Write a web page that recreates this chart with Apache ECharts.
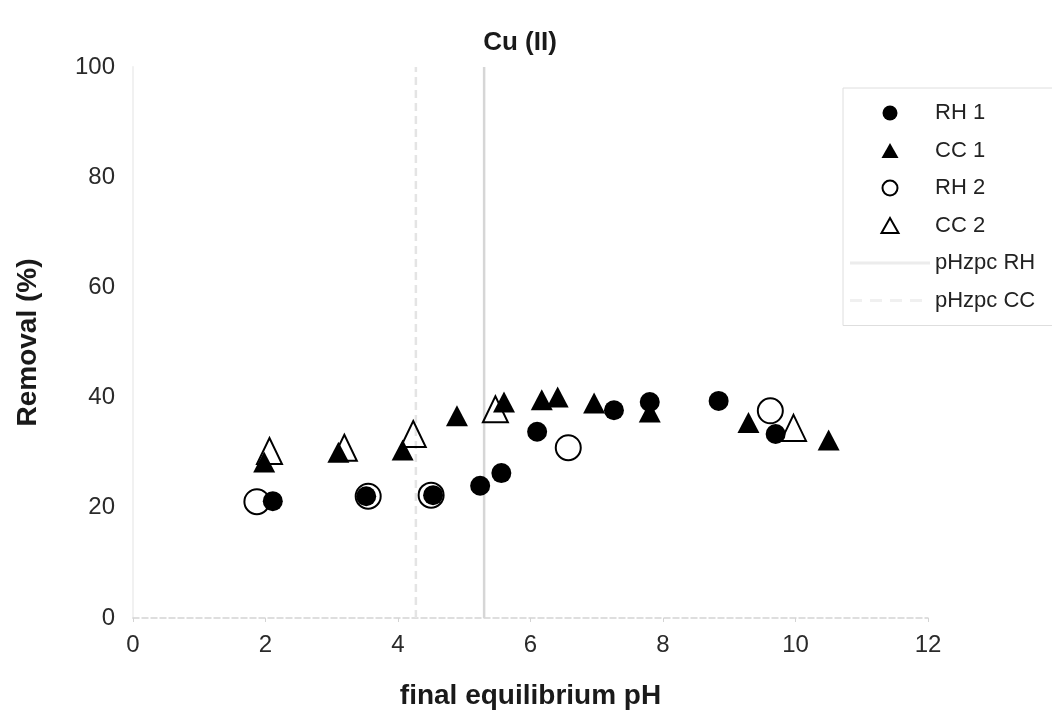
<!DOCTYPE html>
<html>
<head>
<meta charset="utf-8">
<title>Cu (II) removal vs final equilibrium pH</title>
<script src="https://cdn.jsdelivr.net/npm/echarts@6/dist/echarts.min.js"></script>
<style>
  html, body { margin: 0; padding: 0; background: #ffffff; }
  #chart { width: 1052px; height: 725px; }
</style>
</head>
<body>
<div id="chart"></div>
<script>
// Removal (%) of Cu(II) against final equilibrium pH, [pH, removal]
const rh1 = [[2.11, 21.2], [3.52, 22.1], [4.53, 22.3], [5.24, 24.0], [5.56, 26.3],
             [6.10, 33.8], [7.26, 37.7], [7.80, 39.2], [8.84, 39.4], [9.70, 33.4]];
const cc1 = [[1.98, 28.3], [3.10, 30.1], [4.07, 30.5], [4.89, 36.7], [5.60, 39.2],
             [6.17, 39.6], [6.41, 40.1], [6.96, 39.0], [7.80, 37.4], [9.29, 35.5], [10.5, 32.3]];
const rh2 = [[1.87, 21.1], [3.55, 22.1], [4.50, 22.3], [6.57, 30.9], [9.62, 37.6]];
const cc2 = [[2.06, 30.3], [3.19, 30.9], [4.23, 33.4], [5.47, 37.9], [9.97, 34.5]];

// point of zero charge of each sorbent
const pHzpcRH = 5.3;
const pHzpcCC = 4.27;

const seriesNames = ['RH 1', 'CC 1', 'RH 2', 'CC 2', 'pHzpc RH', 'pHzpc CC'];
const xTicks = { min: 0, max: 12, interval: 2 };
const yTicks = { min: 0, max: 100, interval: 20 };

const FONT = "'Liberation Sans', Arial, sans-serif";
const chart = echarts.init(document.getElementById('chart'), null, { renderer: 'canvas' });

function zpcLine(x) {
  return [[x, yTicks.min], [x, yTicks.max]];
}

// legend glyphs: triangles kept equilateral, zpc entries as thin faint strokes
const TRI = 'path://M0,15 L8.5,0 L17,15 Z';
const SOLID_STROKE = 'path://M0,0 L80,0 L80,3 L0,3 Z';
const DASH_STROKE = 'path://M0,0 L12,0 L12,3 L0,3 Z M20,0 L32,0 L32,3 L20,3 Z M40,0 L52,0 L52,3 L40,3 Z M60,0 L72,0 L72,3 L60,3 Z M80,0 L80,3 Z';

chart.setOption({
  backgroundColor: '#ffffff',
  animation: false,
  textStyle: { fontFamily: FONT },
  title: {
    text: 'Cu (II)',
    left: 515,
    top: 25,
    textAlign: 'center',
    textStyle: { fontFamily: FONT, fontSize: 26, fontWeight: 'bold', color: '#1a1a1a' }
  },
  grid: { left: 133, right: 124, top: 67, bottom: 107, containLabel: false },
  legend: {
    data: [
      { name: seriesNames[0], icon: 'circle' },
      { name: seriesNames[1], icon: TRI },
      { name: seriesNames[2], icon: 'circle' },
      { name: seriesNames[3], icon: TRI },
      { name: seriesNames[4], icon: SOLID_STROKE, itemStyle: { color: '#ececec', borderWidth: 0 } },
      { name: seriesNames[5], icon: DASH_STROKE, itemStyle: { color: '#f0f0f0', borderWidth: 0 } }
    ],
    orient: 'vertical',
    left: 843,
    top: 88,
    padding: [14, 30, 14, 7],
    itemWidth: 80,
    itemHeight: 15,
    itemGap: 15.5,
    symbolKeepAspect: true,
    borderColor: '#dedede',
    borderWidth: 1,
    backgroundColor: '#ffffff',
    textStyle: { fontFamily: FONT, fontSize: 22, color: '#222', lineHeight: 22 }
  },
  xAxis: {
    type: 'value',
    min: xTicks.min,
    max: xTicks.max,
    interval: xTicks.interval,
    name: 'final equilibrium pH',
    nameLocation: 'middle',
    nameGap: 64,
    nameTextStyle: { fontFamily: FONT, fontSize: 28, fontWeight: 'bold', color: '#1a1a1a' },
    axisLine: { show: true, lineStyle: { color: '#d4d4d4', width: 1.5, type: 'dashed' } },
    axisTick: { show: true, length: 4, lineStyle: { color: '#d4d4d4' } },
    axisLabel: { fontFamily: FONT, fontSize: 24, color: '#2a2a2a', margin: 15 },
    splitLine: { show: false }
  },
  yAxis: {
    type: 'value',
    min: yTicks.min,
    max: yTicks.max,
    interval: yTicks.interval,
    name: 'Removal (%)',
    nameLocation: 'middle',
    nameGap: 91,
    nameTextStyle: { fontFamily: FONT, fontSize: 28, fontWeight: 'bold', color: '#1a1a1a' },
    axisLine: { show: true, lineStyle: { color: '#f1f1f1', width: 2 } },
    axisTick: { show: false },
    axisLabel: { fontFamily: FONT, fontSize: 24, color: '#2a2a2a', margin: 18 },
    splitLine: { show: false }
  },
  series: [
    {
      name: 'RH 1', type: 'scatter', z: 3, data: rh1,
      symbol: 'circle', symbolSize: 20,
      itemStyle: { color: '#000000', opacity: 1 }
    },
    {
      name: 'CC 1', type: 'scatter', z: 3, data: cc1,
      symbol: 'triangle', symbolSize: [22, 21],
      itemStyle: { color: '#000000', opacity: 1 }
    },
    {
      name: 'RH 2', type: 'scatter', z: 3, data: rh2,
      symbol: 'circle', symbolSize: 25,
      itemStyle: { color: 'rgba(255,255,255,0)', borderColor: '#000000', borderWidth: 2, opacity: 1 }
    },
    {
      name: 'CC 2', type: 'scatter', z: 3, data: cc2,
      symbol: 'triangle', symbolSize: [25, 26],
      itemStyle: { color: 'rgba(255,255,255,0)', borderColor: '#000000', borderWidth: 2, opacity: 1 }
    },
    {
      name: 'pHzpc RH', type: 'line', z: 1, data: zpcLine(pHzpcRH),
      symbol: 'none', silent: true,
      lineStyle: { color: '#d6d6d6', width: 2.5, type: 'solid' },
      itemStyle: { color: '#d6d6d6' }
    },
    {
      name: 'pHzpc CC', type: 'line', z: 1, data: zpcLine(pHzpcCC),
      symbol: 'none', silent: true,
      lineStyle: { color: '#e4e4e4', width: 2.5, type: [8, 5] },
      itemStyle: { color: '#e4e4e4' }
    }
  ]
});
</script>
</body>
</html>
